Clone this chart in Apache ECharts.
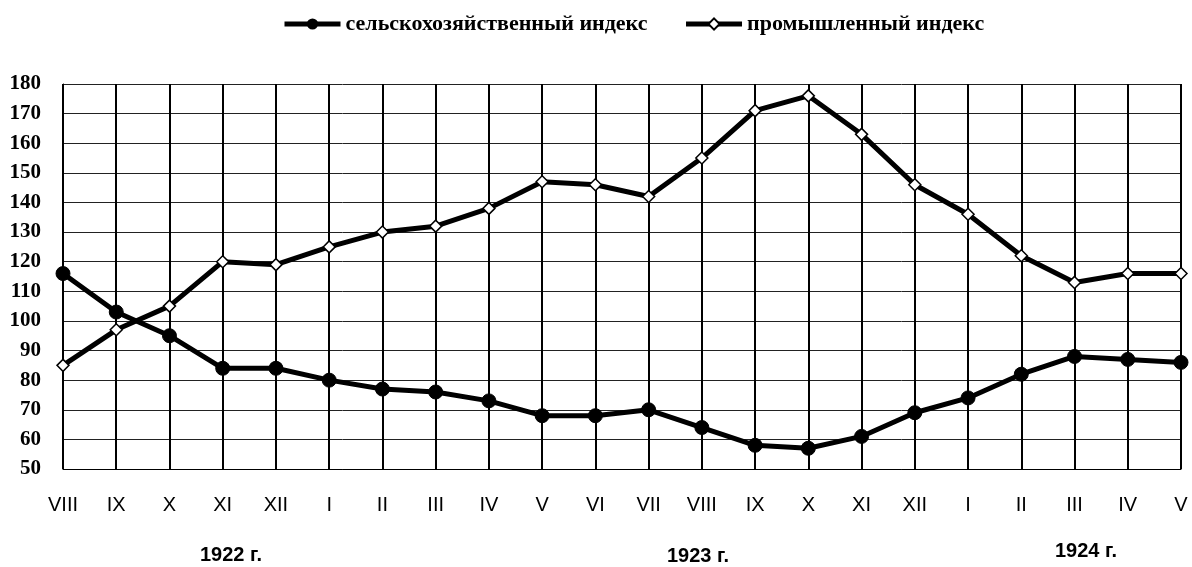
<!DOCTYPE html>
<html>
<head>
<meta charset="utf-8">
<script src="https://cdn.jsdelivr.net/npm/echarts@6/dist/echarts.min.js"></script>
<style>
html,body{margin:0;padding:0;background:#fff;}
#main{width:1192px;height:567px;}
</style>
</head>
<body>
<div id="main"></div>
<script>
// месяцы 1922-1924
var months = ['VIII','IX','X','XI','XII','I','II','III','IV','V','VI','VII','VIII','IX','X','XI','XII','I','II','III','IV','V'];
var agri = [116, 103, 95, 84, 84, 80, 77, 76, 73, 68, 68, 70, 64, 58, 57, 61, 69, 74, 82, 88, 87, 86];
var indus = [85, 97, 105, 120, 119, 125, 130, 132, 138, 147, 146, 142, 155, 171, 176, 163, 146, 136, 122, 113, 116, 116];
var years = ['1922 г.', '1923 г.', '1924 г.'];

var chart = echarts.init(document.getElementById('main'));
var option = {
    animation: false,
    backgroundColor: '#fff',
    legend: {
        top: 8,
        left: 277,
        itemWidth: 56,
        itemHeight: 14,
        itemGap: 36,
        lineStyle: {width: 5},
        textStyle: {
            fontFamily: 'Liberation Serif',
            fontWeight: 'bold',
            fontSize: 22,
            color: '#000'
        },
        data: ['сельскохозяйственный индекс', 'промышленный индекс']
    },
    grid: {left: 63, right: 11, top: 84, bottom: 98},
    xAxis: {
        type: 'category',
        boundaryGap: false,
        data: months,
        axisLine: {lineStyle: {color: '#000', width: 1}},
        axisTick: {show: false},
        axisLabel: {
            margin: 26,
            fontFamily: 'Liberation Sans',
            fontSize: 20,
            color: '#000'
        },
        splitLine: {show: true, lineStyle: {color: '#000', width: 2}}
    },
    yAxis: {
        type: 'value',
        min: 50,
        max: 180,
        interval: 10,
        axisLine: {show: true, lineStyle: {color: '#000', width: 1}},
        axisTick: {show: false},
        axisLabel: {
            margin: 22,
            fontFamily: 'Liberation Serif',
            fontWeight: 'bold',
            fontSize: 21,
            color: '#000'
        },
        splitLine: {lineStyle: {color: '#222', width: 1}}
    },
    series: [
        {
            name: 'сельскохозяйственный индекс',
            type: 'line',
            data: agri,
            symbol: 'circle',
            symbolSize: 14,
            lineStyle: {color: '#000', width: 5},
            itemStyle: {color: '#000', borderColor: '#000'}
        },
        {
            name: 'промышленный индекс',
            type: 'line',
            data: indus,
            symbol: 'diamond',
            symbolSize: 12,
            lineStyle: {color: '#000', width: 5},
            itemStyle: {color: '#fff', borderColor: '#000', borderWidth: 1.5}
        }
    ],
    graphic: [
        {type: 'text', left: 200, top: 545, style: {text: years[0], font: 'bold 20px "Liberation Sans"', fill: '#000'}},
        {type: 'text', left: 667, top: 546, style: {text: years[1], font: 'bold 20px "Liberation Sans"', fill: '#000'}},
        {type: 'text', left: 1055, top: 541, style: {text: years[2], font: 'bold 20px "Liberation Sans"', fill: '#000'}}
    ]
};
chart.setOption(option);
</script>
</body>
</html>
